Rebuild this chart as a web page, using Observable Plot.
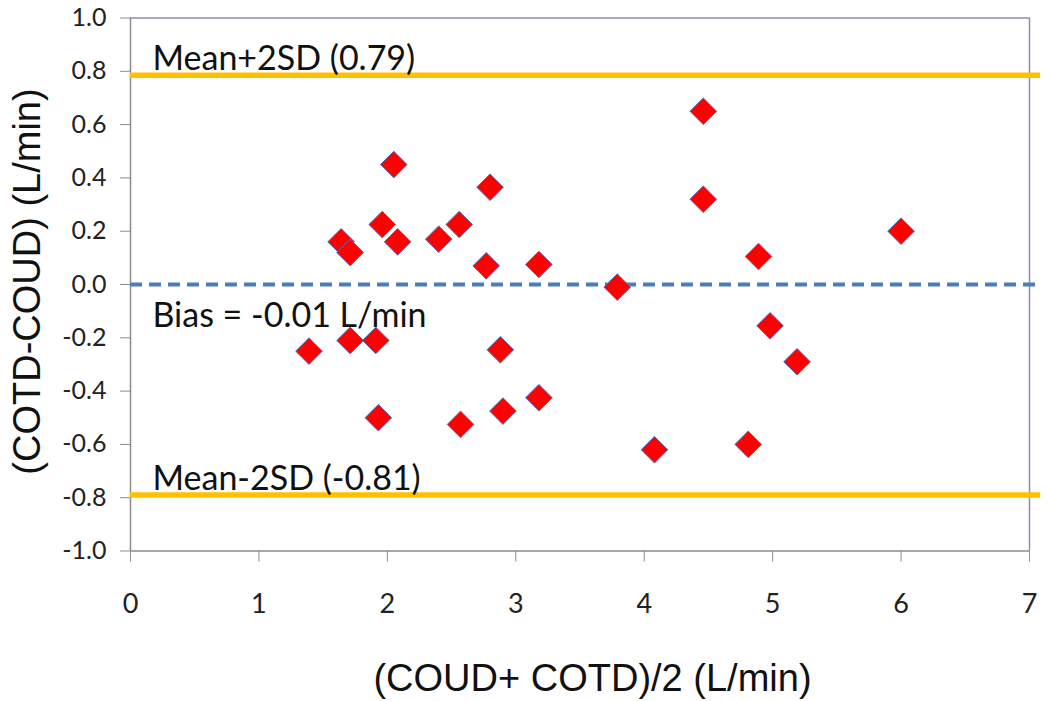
<!DOCTYPE html>
<html><head><meta charset="utf-8">
<script src="https://cdn.jsdelivr.net/npm/d3@7"></script>
<script src="https://cdn.jsdelivr.net/npm/@observablehq/plot@0.6"></script>
<style>body{margin:0;background:#fff}</style>
</head><body><div id="chart"></div>
<script>
// Bland-Altman data: mean of the two methods (x) and their difference (y)
const meanX = [1.39, 1.64, 1.71, 2.05, 1.96, 2.08, 2.40, 2.56, 2.80, 2.77, 3.18,
               1.71, 1.91, 1.93, 2.88, 2.57, 2.90, 3.18,
               4.46, 4.46, 4.89, 3.79, 4.98, 5.19, 4.08, 4.81, 6.00];
const diffY = [-0.25, 0.16, 0.12, 0.45, 0.225, 0.16, 0.17, 0.225, 0.365, 0.07, 0.075,
               -0.21, -0.21, -0.50, -0.245, -0.525, -0.475, -0.425,
               0.65, 0.32, 0.105, -0.01, -0.155, -0.29, -0.62, -0.60, 0.20];

const upperLimit = 0.785;
const lowerLimit = -0.79;
const biasValue = 0.0;
const upperLabel = "Mean+2SD (0.79)";
const lowerLabel = "Mean-2SD (-0.81)";
const biasLabel = "Bias = -0.01 L/min";
const xTicks = [0, 1, 2, 3, 4, 5, 6, 7];
const yTicks = [-1.0, -0.8, -0.6, -0.4, -0.2, 0.0, 0.2, 0.4, 0.6, 0.8, 1.0];
const xTitle = "(COUD+ COTD)/2 (L/min)";
const yTitle = "(COTD-COUD) (L/min)";

const points = meanX.map((x, i) => ({x, y: diffY[i]}));
const noteFont = {fontFamily: "Lato, sans-serif", fontSize: 34, fill: "#111"};
const titleFont = {fontFamily: "'Liberation Sans', Arial, sans-serif", fontSize: 38, fill: "#111"};

const chart = Plot.plot({
  width: 1050, height: 701,
  marginLeft: 130, marginRight: 21, marginTop: 17.5, marginBottom: 150.5,
  style: {fontFamily: "Lato, sans-serif", background: "#fff"},
  x: {domain: [0, 7]},
  y: {domain: [-1, 1]},
  marks: [
    Plot.ruleY([1], {stroke: "#8A8DBA", strokeWidth: 1.5}),
    Plot.ruleX([7], {stroke: "#8A8DBA", strokeWidth: 1.5}),
    Plot.ruleX([0], {stroke: "#8C8C8C", strokeWidth: 1.5}),
    Plot.ruleY([-1], {stroke: "#8C8C8C", strokeWidth: 1.5}),
    Plot.axisX({ticks: xTicks, tickFormat: d => String(d), tickSize: 11, tickPadding: 31.5,
      stroke: "#8C8C8C", fill: "#222", fontSize: 27, label: null}),
    Plot.axisY({ticks: yTicks, tickFormat: d => d.toFixed(1), tickSize: 10, tickPadding: 14,
      stroke: "#8C8C8C", fill: "#222", fontSize: 25, label: null}),
    Plot.ruleY([upperLimit, lowerLimit], {x1: 0, x2: 7.087, stroke: "#FFC000", strokeWidth: 5.5}),
    Plot.ruleY([biasValue], {x1: 0, x2: 7.06, stroke: "#4A7EBB", strokeWidth: 4, strokeDasharray: "12,7"}),
    Plot.dot(points, {x: "x", y: "y", symbol: "diamond2", r: 12, fill: "#FF0000", stroke: "#4F6FBF", strokeWidth: 1}),
    Plot.text([upperLabel], {x: 0, y: upperLimit, text: d => d, dx: 22, dy: -5.5, textAnchor: "start", lineAnchor: "bottom", ...noteFont}),
    Plot.text([lowerLabel], {x: 0, y: lowerLimit, text: d => d, dx: 22, dy: -5, textAnchor: "start", lineAnchor: "bottom", ...noteFont}),
    Plot.text([biasLabel], {x: 0, y: biasValue, text: d => d, dx: 22, dy: 42.7, textAnchor: "start", lineAnchor: "bottom", ...noteFont}),
    Plot.text([xTitle], {frameAnchor: "bottom", text: d => d, dx: 12.5, dy: 140, textAnchor: "middle", lineAnchor: "bottom", ...titleFont}),
    Plot.text([yTitle], {frameAnchor: "left", text: d => d, rotate: -90, dx: -91, dy: -3, textAnchor: "middle", lineAnchor: "bottom", ...titleFont})
  ]
});
document.getElementById("chart").appendChild(chart);
</script>
</body></html>
